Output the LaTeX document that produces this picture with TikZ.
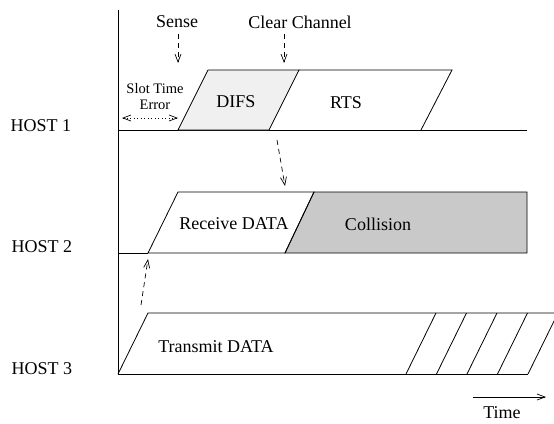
\documentclass[tikz,border=0pt]{standalone}
\usepackage{fontspec}
\setmainfont{Liberation Serif}
\usetikzlibrary{arrows.meta,positioning}

\begin{document}
\begin{tikzpicture}[x=1pt, y=-1pt,
  font=\fontsize{18}{20}\selectfont,
  lane/.style={line width=0.8pt},
  frame/.style={draw, line width=0.8pt, line join=miter},
  cue/.style={-{Straight Barb[length=8pt,width=6pt]}, dash pattern=on 5pt off 4pt, line width=0.7pt},
  tick/.style={-{Straight Barb[length=8pt,width=6pt]}, line width=0.7pt},
  tag/.style={inner sep=0pt},
  small/.style={inner sep=0pt, font=\fontsize{14.5}{15}\selectfont}
]
\useasboundingbox (0,0) rectangle (554,423);

% time axis origin
\coordinate (axtop) at (118,10);
\coordinate (axbot) at (118,374);
\draw[lane] (axtop) -- (axbot);

% --- HOST 1 ---
\node[tag] (h1) at (41,126) {HOST 1};
\draw[lane] (118,130) -- (527,130);
\draw[frame, fill=black!6] (178,130) -- (208,70) -- (299,70) -- (269,130) -- cycle;
\draw[frame] (299,70) -- (452,70) -- (421,130);
\node[tag] (difs) at (236,102) {DIFS};
\node[tag] (rts) at (346,103) {RTS};

\node[tag] (sense) at (177,22) {Sense};
\node[tag] (clear) at (300,22) {Clear Channel};
\coordinate (senseA) at (178,34);
\coordinate (senseB) at (178,63);
\coordinate (clearA) at (284,34);
\coordinate (clearB) at (284,63);
\draw[cue] (senseA) -- (senseB);
\draw[cue] (clearA) -- (clearB);

\node[small] (slot) at (155,89) {Slot Time};
\node[small] (err) at (155,105) {Error};
\coordinate (slotL) at (122,118);
\coordinate (slotR) at (178,118);
\draw[{Straight Barb[length=8pt,width=6pt]}-{Straight Barb[length=8pt,width=6pt]},
  dash pattern=on 1pt off 2.5pt, line width=0.7pt] (slotL) -- (slotR);

% --- HOST 2 ---
\node[tag] (h2) at (42,247) {HOST 2};
\draw[lane] (118,253) -- (148,253);
\draw[frame, fill=black!21] (314,192) -- (527,192) -- (527,253) -- (285,253) -- cycle;
\draw[frame] (148,253) -- (178,192) -- (314,192) -- (285,253) -- cycle;
\node[tag] (rx) at (234,224) {Receive DATA};
\node[tag] (coll) at (378,224) {Collision};

\coordinate (difsOut) at (277,140);
\coordinate (rxIn) at (285,186);
\draw[cue] (difsOut) -- (rxIn);

% --- HOST 3 ---
\node[tag] (h3) at (42,369) {HOST 3};
\draw[frame] (118,374) -- (148,313) -- (560,313);
\draw[lane] (118,374) -- (528,374);
\foreach \i in {0,...,4}
  \draw[lane] ({406+30.5*\i},374) -- ({436+30.5*\i},313);
\node[tag] (tx) at (216,347) {Transmit DATA};

\coordinate (txOut) at (141,305);
\coordinate (rxStart) at (148,259);
\draw[cue] (txOut) -- (rxStart);

% time direction
\coordinate (tA) at (473,397);
\coordinate (tB) at (546,397);
\draw[tick] (tA) -- (tB);
\node[tag] (time) at (502,413) {Time};

\end{tikzpicture}
\end{document}
